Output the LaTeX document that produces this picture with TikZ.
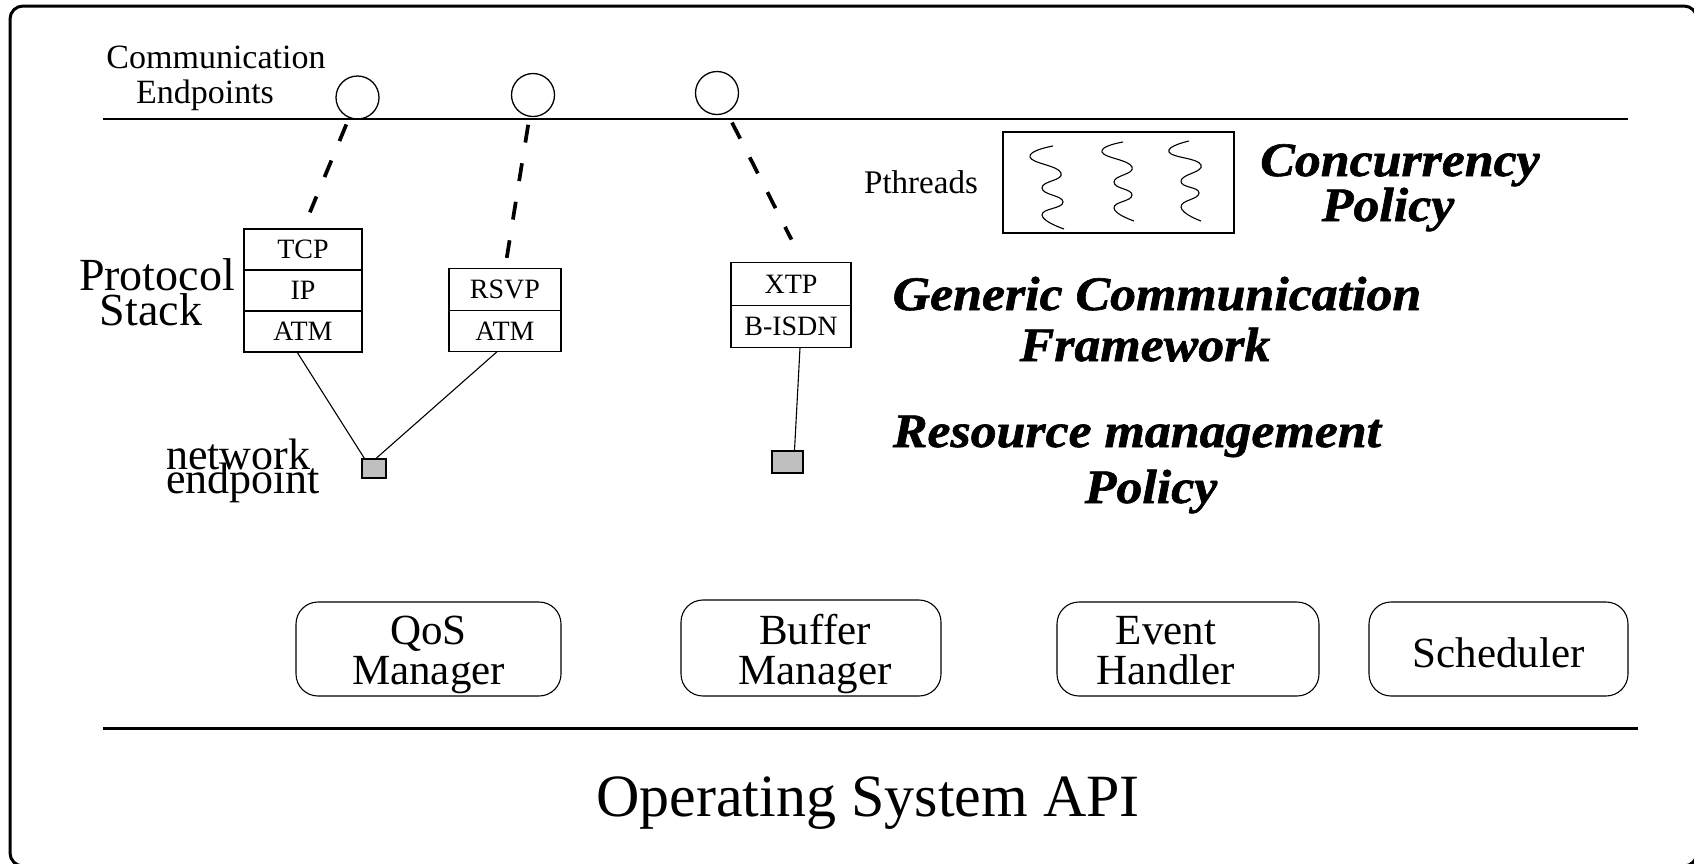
\documentclass[tikz,border=0pt]{standalone}
\usepackage{fontspec}
\setmainfont{Liberation Serif}
\newfontfamily\policyfont{Liberation Serif}[FakeStretch=1.08,FakeBold=1.3]
\usetikzlibrary{positioning}
\newcommand{\fsz}[1]{\fontsize{#1}{#1}\selectfont}

\begin{document}
\begin{tikzpicture}[x=1pt,y=-1pt,
    txt/.style={inner sep=0pt},
    layer/.style={draw,line width=1.2pt,minimum width=118pt,minimum height=41pt,inner sep=0pt,outer sep=0pt,font=\fsz{28}},
    endpt/.style={circle,draw,line width=1.3pt,minimum size=43pt,inner sep=0pt},
    netbox/.style={draw,line width=1.1pt,fill=black!25,minimum width=24pt,minimum height=19pt,inner sep=0pt},
    mgr/.style={draw,rounded corners=22pt,line width=1.1pt,minimum width=265pt,minimum height=94pt},
    mgrlbl/.style={inner sep=0pt,align=center,yshift=-6pt,font=\fontsize{43}{40}\selectfont},
    policy/.style={txt,anchor=base,font=\policyfont\bfseries\itshape\fsz{48}},
    dashline/.style={line width=3.7pt,dash pattern=on 18pt off 21pt},
    thin/.style={line width=1.1pt},
    thread/.style={line width=1.1pt,smooth,tension=0.9}]
			\useasboundingbox (0,0) rectangle (1694,863);

			% ---------------- Frame and layers ----------------
			\draw[line width=3pt,rounded corners=13pt] (10,6) rectangle (1697,866);
			\draw[line width=2.7pt] (103,119) -- (1628,119);
			\draw[line width=3pt] (103,728) -- (1638,728);

			\node[txt,anchor=base,font=\fsz{34}] (commA) at (216,68) {Communication};
			\node[txt,anchor=base,font=\fsz{34}] (commB) at (205,103) {Endpoints};

			% Endpoints
			\node[endpt] (c1) at (357.5,97.5) {};
			\node[endpt] (c2) at (533,95) {};
			\node[endpt] (c3) at (717,93) {};

			% ---------------- Protocol stacks ----------------
			\node[txt,anchor=base,font=\fsz{46}] (protA) at (157,290) {Protocol};
			\node[txt,anchor=base,font=\fsz{46}] (protB) at (151,325) {Stack};

			\node[layer] (tcp) at (303,249.5) {TCP};
			\node[layer,below=0pt of tcp] (ip) {IP};
			\node[layer,below=0pt of ip] (atm1) {ATM};

			\node[layer,minimum width=112pt,minimum height=41.5pt] (rsvp) at (505,289.5) {RSVP};
			\node[layer,minimum width=112pt,minimum height=41.5pt,below=0pt of rsvp] (atm2) {ATM};

			\node[layer,minimum width=120pt,minimum height=42.5pt] (xtp) at (791,284) {XTP};
			\node[layer,minimum width=120pt,minimum height=42.5pt,below=0pt of xtp] (bisdn) {B-ISDN};

			\draw[dashline,shorten <=7pt,shorten >=18pt] (c1) -- (tcp.north);
			\draw[dashline,shorten <=8pt,shorten >=11pt] (c2) -- (rsvp.north);
			\draw[dashline,shorten <=11pt,shorten >=26pt] (c3) -- (xtp.60);

			% Network endpoints
			\node[txt,anchor=base west,font=\fsz{44}] (netA) at (166,469) {network};
			\node[txt,anchor=base west,font=\fsz{44}] (netB) at (166,493) {endpoint};
			\node[netbox] (ne1) at (374,468.5) {};
			\node[netbox,minimum width=31pt,minimum height=22pt] (ne2) at (787.5,462) {};

			\draw[thin] ([xshift=-6pt]atm1.south) -- ([xshift=3pt]ne1.north west);
			\draw[thin] ([xshift=-8pt]atm2.south) -- ([xshift=2pt]ne1.north);
			\draw[thin] ([xshift=9pt]bisdn.south) -- ([xshift=7pt]ne2.north);

			% ---------------- Threads ----------------
			\node[txt,anchor=base west,font=\fsz{33}] (pthlbl) at (864,193) {Pthreads};
			\node[draw,line width=1.2pt,minimum width=231pt,minimum height=101pt] (pth) at (1118.5,182.5) {};
			\draw[thread] plot coordinates {(1053,146) (1030,157) (1061,173) (1042,188) (1063,202) (1042,215) (1064,229)};
			\draw[thread] plot coordinates {(1123,142) (1102,152) (1132,167) (1114,182) (1132,195) (1114,208) (1134,221)};
			\draw[thread] plot coordinates {(1189,141) (1169,152) (1201,165) (1181,181) (1199,193) (1181,207) (1201,221)};

			% Policies
			\node[policy] (concA) at (1400,176) {Concurrency};
			\node[policy] (concB) at (1388,221) {Policy};
			\node[policy] (gcfA) at (1157,310) {Generic Communication};
			\node[policy] (gcfB) at (1145,361) {Framework};
			\node[policy] (resA) at (1137,447) {Resource management};
			\node[policy] (resB) at (1151,503) {Policy};

			% ---------------- Managers ----------------
			\node[mgr,label={[mgrlbl]center:QoS\\Manager}] (qos) at (428.5,649) {};
			\node[mgr,minimum width=260pt,minimum height=96pt,label={[mgrlbl,xshift=4pt]center:Buffer\\Manager}] (buf) at (811,648) {};
			\node[mgr,minimum width=262pt,label={[mgrlbl,xshift=-22pt,yshift=4pt]center:Event\\Handler}] (evt) at (1188,649) {};
			\node[mgr,minimum width=259pt,label={[mgrlbl,yshift=2pt]center:Scheduler}] (sch) at (1498.5,649) {};

			\node[txt,anchor=base,font=\fsz{60}] (osapi) at (868,816) {Operating System API};
		\end{tikzpicture}
\end{document}
